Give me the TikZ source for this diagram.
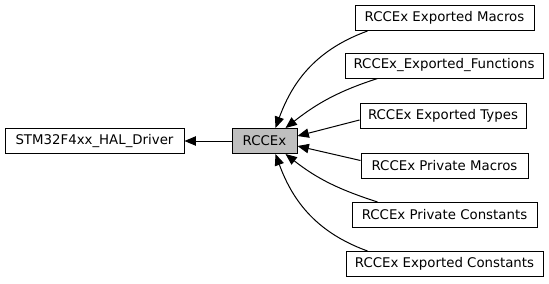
\documentclass[tikz,border=0pt]{standalone}
\usepackage{fontspec}
\setmainfont{DejaVu Sans}
\usetikzlibrary{arrows.meta, calc}

\begin{document}
\begin{tikzpicture}[
			x=0.75pt, y=-0.75pt,
			font=\fontsize{10}{12}\selectfont,
			box/.style={
				draw,
				line width=0.75pt,
				minimum height=18.75pt,
				inner xsep=0pt,
				inner ysep=0pt
			},
			cur/.style={box, fill=black!25},
			arr/.style={-{Triangle[length=8.5pt, width=7pt]}, line width=0.75pt}
			]
			
			\useasboundingbox (0,0) rectangle (549,283);
			
			\node[box, minimum width=134.25pt] (hal) at (94.5,141) {STM32F4xx\_HAL\_Driver};
			\node[cur, minimum width=48.75pt] (rcc) at (264.5,141) {RCCEx};
			
			\node[box, minimum width=134.25pt] (em) at (444.5,18) {RCCEx Exported Macros};
			\node[box, minimum width=148.5pt] (ef) at (444,65.5) {RCCEx\_Exported\_Functions};
			\node[box, minimum width=124.5pt] (et) at (443,116) {RCCEx Exported Types};
			\node[box, minimum width=125.25pt] (pm) at (444.5,165.5) {RCCEx Private Macros};
			\node[box, minimum width=138.75pt] (pc) at (444.5,215) {RCCEx Private Constants};
			\node[box, minimum width=147.75pt] (ec) at (444.5,264) {RCCEx Exported Constants};
			
			\draw[arr] (rcc) -- (hal);
			
			\draw[arr] ($(em.south west)+(13,0)$) to[out=200, in=70] ($(rcc.north)+(11,0)$);
			\draw[arr] ($(ef.south west)+(33,0)$) to[out=198, in=38] ($(rcc.north east)+(-12,0)$);
			\draw[arr] ($(et.west)+(0,4)$) -- ($(rcc.east)+(0,-5)$);
			\draw[arr] ($(pm.west)+(0,-5)$) -- ($(rcc.east)+(0,5)$);
			\draw[arr] ($(pc.north west)+(26,0)$) to[out=162, in=-38] ($(rcc.south east)+(-12,0)$);
			\draw[arr] ($(ec.north west)+(22,0)$) to[out=160, in=-70] ($(rcc.south)+(11,0)$);
			
		\end{tikzpicture}
\end{document}
